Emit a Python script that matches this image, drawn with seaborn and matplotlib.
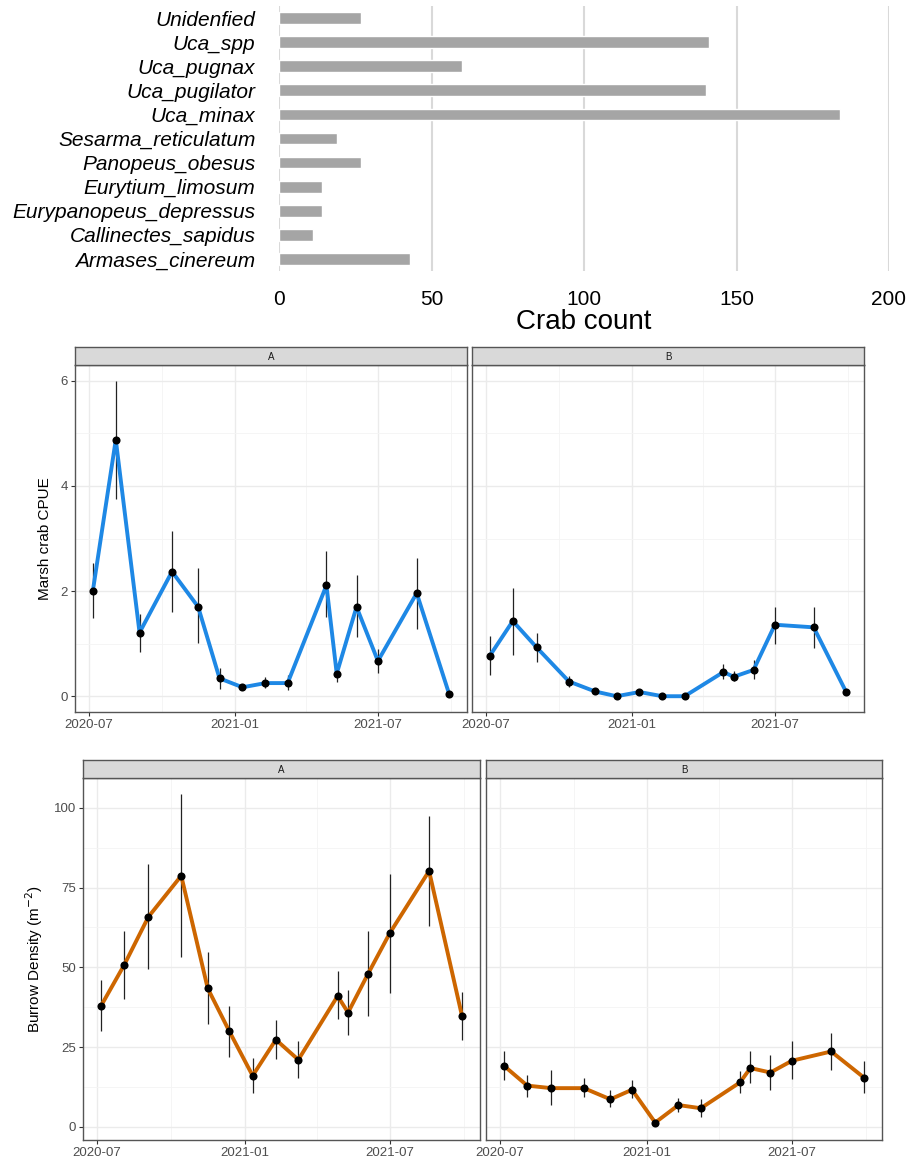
import pandas as pd
import numpy as np
import matplotlib
matplotlib.use("Agg")
import matplotlib.pyplot as plt
import matplotlib.dates as mdates
import seaborn as sns

sns.set_theme(style="white")
plt.rcParams['font.family'] = ['Liberation Sans', 'DejaVu Sans']

# ---- crab counts (top panel) ----
species = ['Unidenfied', 'Uca_spp', 'Uca_pugnax', 'Uca_pugilator', 'Uca_minax',
           'Sesarma_reticulatum', 'Panopeus_obesus', 'Eurytium_limosum',
           'Eurypanopeus_depressus', 'Callinectes_sapidus', 'Armases_cinereum']
crab_count = [27, 141, 60, 140, 184, 19, 27, 14, 14, 11, 43]

# ---- sampling dates (shared by both sites) ----
dates = ['2020-07-06', '2020-08-04', '2020-09-03', '2020-10-14', '2020-11-16',
         '2020-12-13', '2021-01-11', '2021-02-09', '2021-03-09', '2021-04-27',
         '2021-05-10', '2021-06-04', '2021-07-01', '2021-08-19', '2021-09-29']

# marsh crab CPUE, site A / B  (mean, lower, upper)
cpue_a = [2.00, 4.88, 1.21, 2.37, 1.70, 0.34, 0.17, 0.25, 0.25, 2.11, 0.43, 1.70, 0.67, 1.96, 0.04]
cpue_a_lo = [1.48, 3.75, 0.84, 1.61, 1.02, 0.13, 0.12, 0.16, 0.11, 1.51, 0.28, 1.12, 0.44, 1.28, 0.02]
cpue_a_hi = [2.54, 6.00, 1.57, 3.14, 2.43, 0.53, 0.22, 0.37, 0.40, 2.76, 0.58, 2.30, 0.89, 2.63, 0.06]
cpue_b = [0.77, 1.43, 0.93, 0.28, 0.09, 0.00, 0.08, 0.00, 0.00, 0.46, 0.37, 0.50, 1.36, 1.31, 0.08]
cpue_b_lo = [0.41, 0.79, 0.65, 0.18, 0.06, 0.00, 0.05, 0.00, 0.00, 0.33, 0.29, 0.33, 1.00, 0.92, 0.06]
cpue_b_hi = [1.14, 2.06, 1.21, 0.39, 0.12, 0.00, 0.11, 0.00, 0.00, 0.62, 0.48, 0.68, 1.70, 1.70, 0.10]

# burrow density, site A / B
burrow_a = [37.9, 50.8, 65.8, 78.7, 43.4, 29.9, 16.0, 27.3, 21.0, 41.0, 35.8, 48.0, 60.7, 80.2, 34.8]
burrow_a_lo = [30.1, 40.0, 49.6, 53.2, 32.1, 22.0, 10.7, 21.3, 15.4, 33.9, 28.8, 34.6, 42.0, 62.8, 27.2]
burrow_a_hi = [46.1, 61.5, 82.3, 104.2, 54.7, 37.9, 21.7, 33.5, 26.9, 48.9, 42.9, 61.5, 79.4, 97.6, 42.4]
burrow_b = [19.1, 12.9, 12.1, 12.1, 8.6, 11.6, 1.3, 6.8, 5.8, 13.9, 18.4, 17.0, 20.7, 23.6, 15.4]
burrow_b_lo = [14.5, 9.4, 6.7, 9.2, 6.1, 9.1, 1.0, 4.6, 3.1, 10.7, 13.6, 11.5, 15.1, 17.8, 10.5]
burrow_b_hi = [23.8, 16.2, 17.8, 15.2, 11.5, 14.5, 1.6, 8.9, 8.7, 17.5, 23.6, 22.4, 26.9, 29.5, 20.6]

W, H = 907, 1162
fig = plt.figure(figsize=(W / 100, H / 100), dpi=100)


def box(x0, y0, x1, y1):
    # pixel box (top-left origin) -> figure fraction rect
    return [x0 / W, 1 - y1 / H, (x1 - x0) / W, (y1 - y0) / H]


# ================= top: bar chart =================
ax = fig.add_axes(box(279, 6, 889, 271))
bar_df = pd.DataFrame({'species': species, 'count': crab_count})
sns.barplot(data=bar_df, y='species', x='count', color='#A5A5A5', width=0.49,
            saturation=1, ax=ax, zorder=3)
ax.set_xlim(0, 200)
ax.set_ylim(len(species) - 0.5, -0.5)
ax.set_xticks([0, 50, 100, 150, 200])
ax.grid(axis='x', color='#D9D9D9', lw=1.5, zorder=0)
ax.grid(axis='y', visible=False)
for s in ax.spines.values():
    s.set_visible(False)
ax.tick_params(axis='y', length=0, pad=17, labelsize=15, labelcolor='black')
ax.tick_params(axis='x', length=0, pad=14, labelsize=15, labelcolor='black')
for lbl in ax.get_yticklabels():
    lbl.set_style('italic')
ax.set_ylabel('')
ax.set_xlabel('Crab count', fontsize=20, labelpad=0, color='black')

# ================= facet panels =================
dt = pd.to_datetime(dates)
major = pd.to_datetime(['2020-07-01', '2021-01-01', '2021-07-01'])
minor = pd.to_datetime(['2020-10-01', '2021-04-01', '2021-10-01'])
span = dt.max() - dt.min()
xlim = (dt.min() - span * 0.05, dt.max() + span * 0.05)


def facet(rect, strip_rect, label, mean, lo, hi, color, ylim, yticks, yminor, show_y):
    ax = fig.add_axes(rect)
    df = pd.DataFrame({'date': dt, 'mean': mean, 'lo': lo, 'hi': hi})
    ax.vlines(df['date'], df['lo'], df['hi'], color='#222222', lw=0.9, zorder=3)
    sns.lineplot(data=df, x='date', y='mean', color=color, lw=2.8, ax=ax, zorder=4)
    sns.scatterplot(data=df, x='date', y='mean', color='black', s=34,
                    edgecolor='black', linewidth=0, ax=ax, zorder=5)
    ax.set_xlim(xlim)
    ax.set_ylim(ylim)
    ax.set_xticks(major)
    ax.set_xticks(minor, minor=True)
    ax.xaxis.set_major_formatter(mdates.DateFormatter('%Y-%m'))
    ax.set_yticks(yticks)
    ax.set_yticks(yminor, minor=True)
    ax.grid(which='major', color='#EBEBEB', lw=1.0)
    ax.grid(which='minor', color='#F4F4F4', lw=0.6)
    ax.set_axisbelow(True)
    for s in ax.spines.values():
        s.set_visible(True)
        s.set_color('#555555')
        s.set_linewidth(1.0)
    ax.tick_params(which='major', length=3, width=0.8, color='#333333',
                   labelsize=9.5, labelcolor='#4D4D4D', pad=2, bottom=True, left=True)
    ax.tick_params(which='minor', length=0)
    ax.set_xlabel('')
    ax.set_ylabel('')
    if not show_y:
        ax.tick_params(axis='y', which='both', left=False, labelleft=False)
    sa = fig.add_axes(strip_rect)
    sa.set_facecolor('#D9D9D9')
    sa.set_xticks([])
    sa.set_yticks([])
    for s in sa.spines.values():
        s.set_color('#555555')
        s.set_linewidth(1.0)
    sa.text(0.5, 0.45, label, ha='center', va='center', fontsize=7, color='#1A1A1A',
            transform=sa.transAxes)
    return ax


lo_all = min(min(cpue_a_lo), min(cpue_b_lo))
hi_all = max(max(cpue_a_hi), max(cpue_b_hi))
pad = (hi_all - lo_all) * 0.05
ylim_c = (lo_all - pad, hi_all + pad)
ax_ca = facet(box(75, 365, 467, 712), box(75, 347, 467, 365), 'A', cpue_a, cpue_a_lo, cpue_a_hi,
              '#1E88E5', ylim_c, [0, 2, 4, 6], [1, 3, 5], True)
ax_cb = facet(box(472, 365, 864, 712), box(472, 347, 864, 365), 'B', cpue_b, cpue_b_lo, cpue_b_hi,
              '#1E88E5', ylim_c, [0, 2, 4, 6], [1, 3, 5], False)
ax_ca.set_ylabel('Marsh crab CPUE', fontsize=11, labelpad=6, color='black')

lo_all = min(min(burrow_a_lo), min(burrow_b_lo))
hi_all = max(max(burrow_a_hi), max(burrow_b_hi))
pad = (hi_all - lo_all) * 0.05
ylim_b = (lo_all - pad, hi_all + pad)
ax_ba = facet(box(83, 778, 480, 1140), box(83, 760, 480, 778), 'A', burrow_a, burrow_a_lo, burrow_a_hi,
              '#CD6600', ylim_b, [0, 25, 50, 75, 100], [12.5, 37.5, 62.5, 87.5], True)
ax_bb = facet(box(486, 778, 882, 1140), box(486, 760, 882, 778), 'B', burrow_b, burrow_b_lo, burrow_b_hi,
              '#CD6600', ylim_b, [0, 25, 50, 75, 100], [12.5, 37.5, 62.5, 87.5], False)
ax_ba.set_ylabel('Burrow Density (m$^{-2}$)', fontsize=11, labelpad=6, color='black')

fig.savefig('out.png', dpi=100)
